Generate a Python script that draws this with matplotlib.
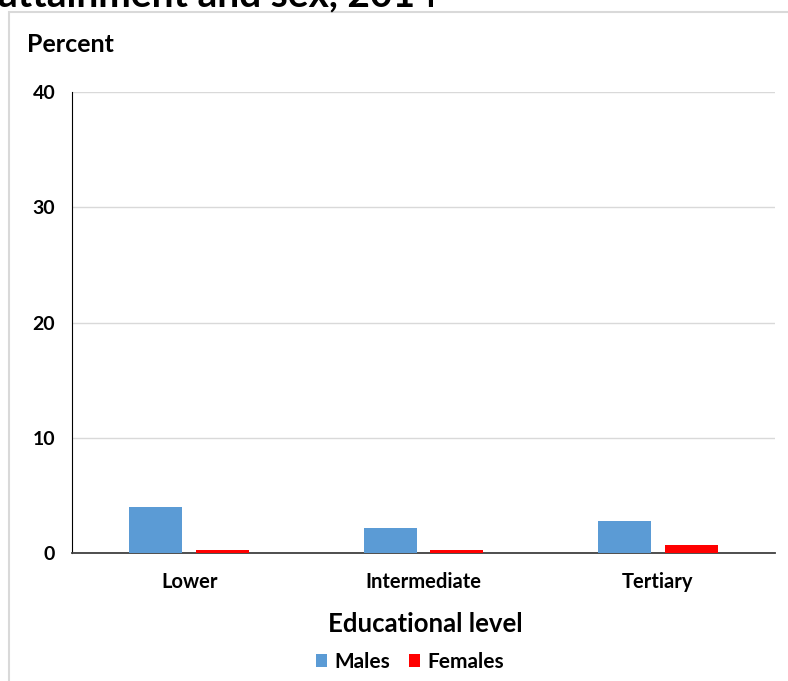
import matplotlib
matplotlib.use("Agg")
import matplotlib.pyplot as plt
import numpy as np
from matplotlib.patches import Rectangle

categories = ["Lower", "Intermediate", "Tertiary"]
males = [4.0, 2.2, 2.8]
females = [0.25, 0.25, 0.7]
yticks = [0, 10, 20, 30, 40]

plt.rcParams['font.family'] = ['Lato', 'DejaVu Sans']

W, H = 788, 681
fig = plt.figure(figsize=(W/100, H/100), dpi=100)

def fx(px): return px / W
def fy(py): return 1 - py / H

# outer border
fig.patches.append(Rectangle((fx(9), fy(H+5)), fx(W+10) - fx(9), fy(12) - fy(H+5),
                             transform=fig.transFigure, fill=False,
                             edgecolor='#D9D9D9', linewidth=1.5))

# cut-off title (cut at the top edge as in the reference)
fig.text(fx(-2), fy(6), "attainment and sex, 2014", fontsize=28, fontweight='bold',
         ha='left', va='baseline', color='black')

ax = fig.add_axes([fx(72), fy(553), fx(775) - fx(72), fy(92) - fy(553)])

x = np.arange(len(categories))
bw = 0.227
off = 0.142
ax.bar(x - off, males, bw, color='#5B9BD5', label='Males', zorder=3)
ax.bar(x + off, females, bw, color='#FF0000', label='Females', zorder=3)

ax.set_xlim(-0.5, 2.5)
ax.set_ylim(0, 40)
ax.set_yticks(yticks)
ax.set_yticklabels([str(t) for t in yticks], fontsize=14, fontweight='bold')
ax.set_xticks(x)
ax.set_xticklabels(categories, fontsize=14.5, fontweight='bold')
ax.tick_params(axis='both', length=0)
ax.tick_params(axis='y', pad=22)
ax.tick_params(axis='x', pad=14)
for lbl in ax.get_yticklabels():
    lbl.set_horizontalalignment('right')
ax.tick_params(axis='y', pad=12)
ax.yaxis.grid(True, color='#D9D9D9', linewidth=1)
ax.set_axisbelow(True)
for s in ['top', 'right']:
    ax.spines[s].set_visible(False)
ax.spines['left'].set_color('black')
ax.spines['bottom'].set_color('#404040')
ax.spines['bottom'].set_linewidth(1.3)

fig.text(fx(27), fy(44), "Percent", fontsize=18, fontweight='bold', ha='left', va='center')
fig.text(fx(425), fy(624), "Educational level", fontsize=18.5, fontweight='bold',
         ha='center', va='center')

leg = fig.legend(loc='center', bbox_to_anchor=(fx(410), fy(662)), ncol=2, frameon=False,
                 prop={'size': 15, 'weight': 'bold'}, handlelength=0.55, handleheight=0.55,
                 handletextpad=0.35, columnspacing=0.9)

fig.savefig("out.png", dpi=100)
